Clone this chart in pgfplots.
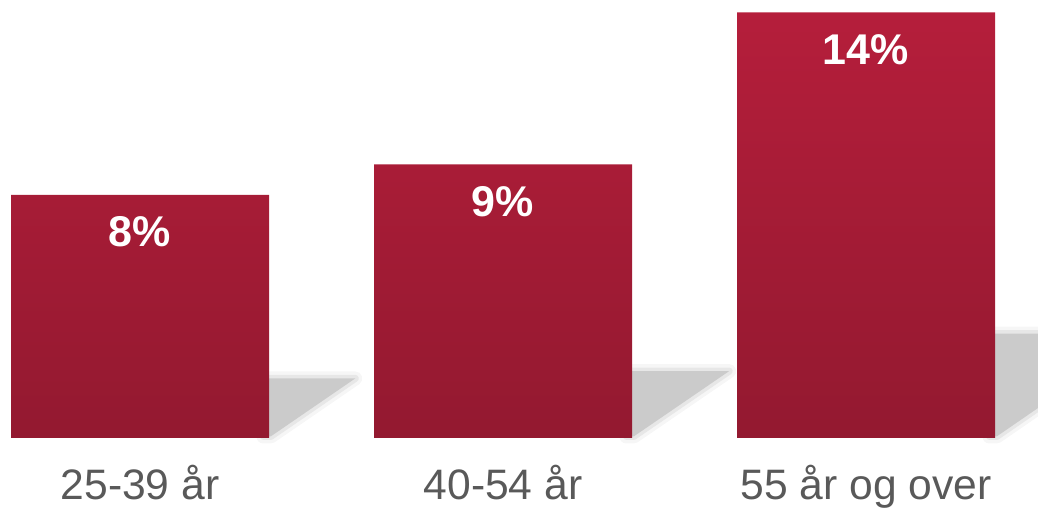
\documentclass[border=0pt]{standalone}
\usepackage{fontspec}
\setmainfont{Liberation Sans}
\usepackage{pgfplots}
\pgfplotsset{compat=1.18}
\definecolor{barTop}{HTML}{B51E3B}
\definecolor{barBot}{HTML}{931930}
\definecolor{shadowGray}{HTML}{CBCBCB}
\definecolor{labelGray}{HTML}{595959}
\pgfplotsset{
    soft/.style={draw=shadowGray, draw opacity=0.18, line width=7pt, line join=round},
    softer/.style={draw=shadowGray, draw opacity=0.35, line width=3.5pt, line join=round},
    shadowfill/.style={fill=shadowGray, draw=none},
}
\begin{document}
\begin{tikzpicture}
\begin{axis}[
    width=519pt, height=254.5pt, scale only axis,
    xmin=-0.3857, xmax=2.4738,
    ymin=-2.336, ymax=14.408,
    axis lines=none,
    clip=false,
]
%-- shadows behind the bars (three passes to soften the edges)
\addplot[soft] coordinates {(0.34,0.05) (0.34,1.96) (0.593,1.96) (0.36,0.05)} -- cycle;
\addplot[soft] coordinates {(1.34,0.05) (1.34,2.2) (1.623,2.2) (1.36,0.05)} -- cycle;
\addplot[soft] coordinates {(2.34,0.05) (2.34,3.43) (2.771,3.43) (2.36,0.05)} -- cycle;
\addplot[softer] coordinates {(0.34,0.05) (0.34,1.96) (0.593,1.96) (0.36,0.05)} -- cycle;
\addplot[softer] coordinates {(1.34,0.05) (1.34,2.2) (1.623,2.2) (1.36,0.05)} -- cycle;
\addplot[softer] coordinates {(2.34,0.05) (2.34,3.43) (2.771,3.43) (2.36,0.05)} -- cycle;
\addplot[shadowfill] coordinates {(0.34,0.05) (0.34,1.96) (0.593,1.96) (0.36,0.05)} -- cycle;
\addplot[shadowfill] coordinates {(1.34,0.05) (1.34,2.2) (1.623,2.2) (1.36,0.05)} -- cycle;
\addplot[shadowfill] coordinates {(2.34,0.05) (2.34,3.43) (2.771,3.43) (2.36,0.05)} -- cycle;

%-- bars
\addplot[
    ybar, bar width=0.7107, draw=none,
    top color=barTop, bottom color=barBot,
    nodes near coords={\pgfmathprintnumber[assume math mode=true]{\pgfplotspointmeta}\%},
    every node near coord/.append style={
        white, anchor=base, yshift=-26pt,
        font=\bfseries\fontsize{21.5}{24}\selectfont
    }
]
coordinates {
    (0,8)
    (1,9)
    (2,14)
};

%-- category labels
\node[labelGray, anchor=base, font=\fontsize{21.3}{26}\selectfont] at (axis cs:0,-2.02) {25-39 år};
\node[labelGray, anchor=base, font=\fontsize{21.3}{26}\selectfont] at (axis cs:1,-2.02) {40-54 år};
\node[labelGray, anchor=base, font=\fontsize{21.3}{26}\selectfont] at (axis cs:2,-2.02) {55 år og over};
\end{axis}
\pgfresetboundingbox
\path (current axis.south west) rectangle (current axis.north east);
\end{tikzpicture}
\end{document}
